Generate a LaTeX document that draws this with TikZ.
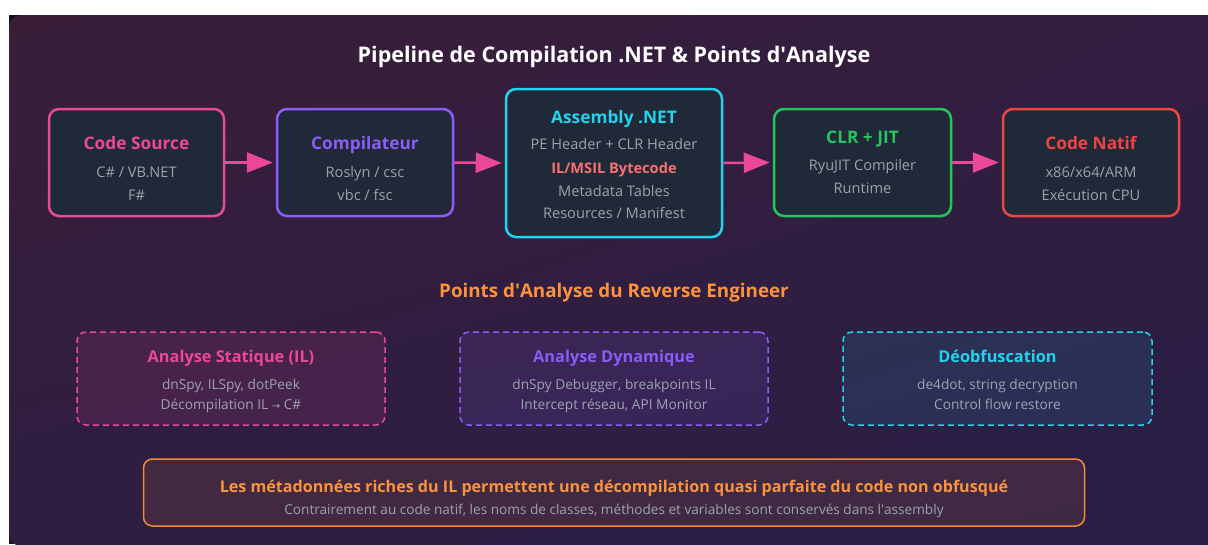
\documentclass[tikz,border=0pt]{standalone}
\usepackage{fontspec}
\setmainfont{Open Sans}
\newfontfamily\symfont{DejaVu Sans}
\usetikzlibrary{arrows.meta,shadings}
\definecolor{bgA}{HTML}{3A1E38}
\definecolor{bgB}{HTML}{321E40}
\definecolor{bgC}{HTML}{2E1E42}
\definecolor{bgD}{HTML}{281E46}
\definecolor{under}{HTML}{141022}
\definecolor{boxfill}{HTML}{1F2937}
\definecolor{cpink}{HTML}{EC4899}
\definecolor{cviolet}{HTML}{8B5CF6}
\definecolor{ccyan}{HTML}{22D3EE}
\definecolor{cgreen}{HTML}{22C55E}
\definecolor{cred}{HTML}{EF4444}
\definecolor{cilred}{HTML}{F87171}
\definecolor{corange}{HTML}{FB923C}
\definecolor{cborange}{HTML}{F28A34}
\definecolor{cgray}{HTML}{9CA3AF}
\tikzset{
  stagebox/.style={draw, line width=2.5pt, fill=boxfill, rounded corners=10pt, inner sep=0pt},
  anbox/.style={draw, line width=1.5pt, dash pattern=on 6pt off 4pt, rounded corners=9pt, inner sep=0pt},
  ttl/.style={anchor=base, inner sep=0pt, font=\fontsize{17.3}{20}\selectfont\bfseries},
  bodyt/.style={anchor=base, inner sep=0pt, text=cgray, font=\fontsize{14.6}{17}\selectfont},
  anttl/.style={anchor=base, inner sep=0pt, font=\fontsize{16.3}{19}\selectfont\bfseries},
  anbody/.style={anchor=base, inner sep=0pt, text=cgray, font=\fontsize{13.7}{16}\selectfont},
  flow/.style={draw=cpink, line width=2.5pt, -{Triangle[length=26pt,width=20pt]}},
}
\begin{document}
\begin{tikzpicture}[x=1pt,y=-1pt]
\useasboundingbox (0,0) rectangle (1208,544);
\fill[white] (0,0) rectangle (1208,544);
\begin{scope}
\clip (0,0) rectangle (1208,544);
\fill[under] (9,15) rectangle (1208,544);
\shade[upper left=bgA, upper right=bgB, lower left=bgC, lower right=bgD, rounded corners=12pt] (9,15) rectangle (1222,546);
\end{scope}

% title
\node[anchor=base, inner sep=0pt, text=white, font=\fontsize{21.5}{25}\selectfont\bfseries] (title) at (614,62.5) {Pipeline de Compilation .NET \& Points d\textquotesingle Analyse};

% stage boxes
\node[stagebox, draw=cpink, minimum width=175pt, minimum height=107pt] (cs) at (136.5,162.5) {};
\node[ttl, text=cpink] (cs-t) at (136.5,149) {Code Source};
\node[bodyt] (cs-1) at (136.5,177) {C\# / VB.NET};
\node[bodyt] (cs-2) at (136.5,200) {F\#};

\node[stagebox, draw=cviolet, minimum width=176pt, minimum height=107pt] (cp) at (365,162.5) {};
\node[ttl, text=cviolet] (cp-t) at (365,149) {Compilateur};
\node[bodyt] (cp-1) at (365,177) {Roslyn / csc};
\node[bodyt] (cp-2) at (365,200) {vbc / fsc};

\node[stagebox, draw=ccyan, minimum width=216pt, minimum height=148pt] (as) at (614,163) {};
\node[ttl, text=ccyan] (as-t) at (614,123) {Assembly .NET};
\node[bodyt] (as-1) at (614,149) {PE Header + CLR Header};
\node[bodyt, text=cilred, font=\fontsize{14.6}{17}\selectfont\bfseries] (as-2) at (614,173) {IL/MSIL Bytecode};
\node[bodyt] (as-3) at (614,196) {Metadata Tables};
\node[bodyt] (as-4) at (614,218) {Resources / Manifest};

\node[stagebox, draw=cgreen, minimum width=177pt, minimum height=107pt] (jit) at (862.5,162.5) {};
\node[ttl, text=cgreen] (jit-t) at (862.5,143) {CLR + JIT};
\node[bodyt] (jit-1) at (862.5,170) {RyuJIT Compiler};
\node[bodyt] (jit-2) at (862.5,193) {Runtime};

\node[stagebox, draw=cred, minimum width=176pt, minimum height=107pt] (nat) at (1091,162.5) {};
\node[ttl, text=cred] (nat-t) at (1091,149) {Code Natif};
\node[bodyt] (nat-1) at (1091,177) {x86/x64/ARM};
\node[bodyt] (nat-2) at (1091,200) {Exécution CPU};

% arrows
\draw[flow] (cs.east) -- ([xshift=-3pt]cp.west);
\draw[flow] (cp.east) -- ([xshift=-3pt]as.west);
\draw[flow] (as.east) -- ([xshift=-3pt]jit.west);
\draw[flow] (jit.east) -- ([xshift=-3pt]nat.west);

% section title
\node[anchor=base, inner sep=0pt, text=corange, font=\fontsize{18.8}{22}\selectfont\bfseries] (sec) at (614,297.5) {Points d\textquotesingle Analyse du Reverse Engineer};

% analysis boxes
\node[anbox, draw=cpink, fill=cpink, fill opacity=0.12, draw opacity=1, minimum width=308pt, minimum height=93pt] (sa) at (231,378.5) {};
\node[anttl, text=cpink] (sa-t) at (231,362) {Analyse Statique (IL)};
\node[anbody] (sa-1) at (231,389) {dnSpy, ILSpy, dotPeek};
\node[anbody] (sa-2) at (231,409) {Décompilation IL {\symfont\fontsize{10}{12}\selectfont →} C\#};

\node[anbox, draw=cviolet, fill=cviolet, fill opacity=0.12, draw opacity=1, minimum width=308pt, minimum height=93pt] (da) at (614,378.5) {};
\node[anttl, text=cviolet] (da-t) at (614,362) {Analyse Dynamique};
\node[anbody] (da-1) at (614,389) {dnSpy Debugger, breakpoints IL};
\node[anbody] (da-2) at (614,409) {Intercept réseau, API Monitor};

\node[anbox, draw=ccyan, fill=ccyan, fill opacity=0.10, draw opacity=1, minimum width=309pt, minimum height=93pt] (de) at (997.5,378.5) {};
\node[anttl, text=ccyan] (de-t) at (997.5,362) {Déobfuscation};
\node[anbody] (de-1) at (997.5,389) {de4dot, string decryption};
\node[anbody] (de-2) at (997.5,409) {Control flow restore};

% footer
\node[draw=cborange, line width=1.5pt, fill=corange, fill opacity=0.10, draw opacity=1, rounded corners=9pt, minimum width=941pt, minimum height=67pt, inner sep=0pt] (ft) at (614,492.5) {};
\node[anchor=base, inner sep=0pt, text=corange, font=\fontsize{16.1}{19}\selectfont\bfseries] (ft-t) at (614,492.5) {Les métadonnées riches du IL permettent une décompilation quasi parfaite du code non obfusqué};
\node[anchor=base, inner sep=0pt, text=cgray, font=\fontsize{13.6}{16}\selectfont] (ft-s) at (614,514.5) {Contrairement au code natif, les noms de classes, méthodes et variables sont conservés dans l\textquotesingle assembly};
\end{tikzpicture}
\end{document}
